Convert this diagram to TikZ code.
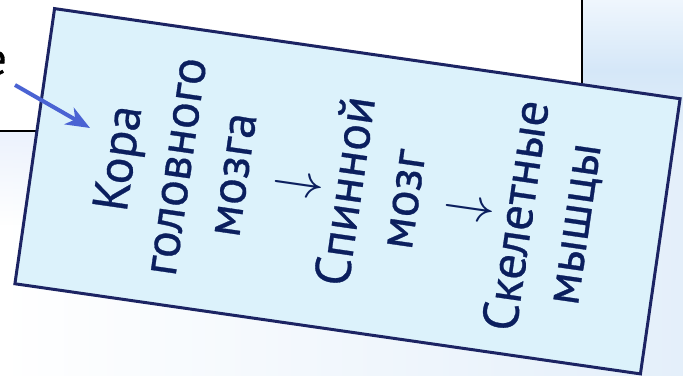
\documentclass[tikz,border=0pt]{standalone}
\usepackage{fix-cm}
\usepackage{fontspec}
\setmainfont[FakeBold=0.6]{PT Sans}
\usetikzlibrary{arrows.meta,fadings}

\definecolor{boxfill}{HTML}{DCF2FB}
\definecolor{boxline}{HTML}{1C2463}
\definecolor{ink}{HTML}{0B1F5E}
\definecolor{pointer}{HTML}{4A63D3}
\definecolor{skyA}{HTML}{E4EFFA}
\definecolor{skyB}{HTML}{ECF2FD}
\definecolor{skyC}{HTML}{EFF6FD}
\definecolor{skyD}{HTML}{D5E7F8}

\newcommand{\chainstep}{\raisebox{-7pt}{\scalebox{1.05}{$\downarrow$}}}

\tikzset{
  card/.style={draw=black, line width=1.5pt, fill=white},
  chainbox/.style={draw=boxline, fill=boxfill, line width=3pt,
    minimum width=632pt, minimum height=278pt, inner sep=0pt},
  chaintext/.style={text=ink, align=center, inner sep=0pt,
    font=\fontsize{50}{57.5}\selectfont},
  pointerline/.style={draw=pointer, line width=4pt,
    -{Stealth[length=24pt, width=19pt, inset=7pt]}},
}

\begin{document}
\begin{tikzpicture}[x=1pt, y=1pt]
\useasboundingbox (0,0) rectangle (683,375);
\clip (0,0) rectangle (683,375);

% slide background
\shade[left color=white, right color=skyA] (0,0) rectangle (683,375);
\fill[skyB, path fading=south] (0,150) rectangle (160,244);
\shade[top color=skyC, bottom color=skyD] (582,305) rectangle (683,375);
\shade[top color=skyD, bottom color=skyA] (582,230) rectangle (683,305);

% white card behind, partly covered
\draw[card] (-20,244) rectangle (582,400);
\node[text=black, font=\fontsize{46}{55}\selectfont, anchor=east, inner sep=0pt]
  (cardtext) at (7,312) {е};

% rotated box with the chain
\node[chainbox, rotate=-8.2] (frame) at (347.5,183.75) {};
\node[chaintext, rotate=81.8] (chain) at (frame.center)
  {Кора\\головного\\мозга\\\chainstep\\Спинной\\мозг\\\chainstep\\Скелетные\\мышцы};

% pointer into the box
\coordinate (ptrstart) at (15,290);
\coordinate (ptrend) at (90,247);
\draw[pointerline] (ptrstart) -- (ptrend);
\end{tikzpicture}
\end{document}
